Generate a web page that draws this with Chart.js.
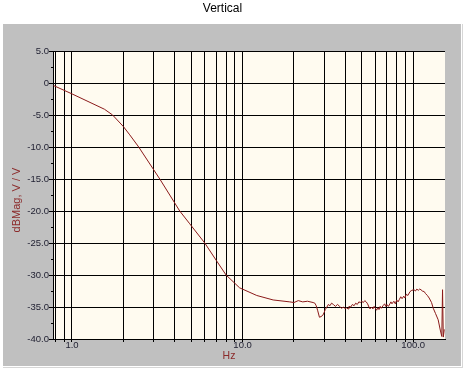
<!DOCTYPE html>
<html>
<head>
<meta charset="utf-8">
<style>
  html, body { margin: 0; padding: 0; background: #ffffff; }
  #wrap { width: 467px; height: 375px; }
</style>
<script src="https://cdn.jsdelivr.net/npm/chart.js@4/dist/chart.umd.min.js"></script>
</head>
<body>
<div id="wrap"><canvas id="c" width="467" height="375"></canvas></div>
<script>
// ---- data ----
const freqHz = [0.78, 1.0, 1.55, 1.73, 2.0, 2.18, 2.46, 3.27, 4.28, 4.9, 6.0, 7.0, 8.0, 9.6, 12.1, 15.1, 18.9, 20, 21.2, 22.5, 24, 25.9,
  26.5, 27.0, 27.5, 28.2, 28.8, 29.5, 30.0, 30.5, 31.2, 31.8, 32.5, 33.2, 34.0, 35, 36, 37, 38, 39, 40, 40.6, 41.5, 42, 43, 44, 45, 46, 47, 48, 49, 49.8,
  51, 52, 53, 54, 55, 55.8, 57, 58, 59, 60, 61, 62, 63, 64, 65, 66.5, 68, 69, 70, 71.5, 73, 74, 75, 77, 78.5, 80, 81.5, 83, 84.5, 86, 88, 89.5, 91, 93, 95.7,
  98, 101, 103, 105, 107, 109, 111, 113, 116, 118, 121, 124, 128, 131, 135, 140, 144, 147, 148.5, 150, 152];
const magDb = [-0.4, -1.7, -4.1, -5.0, -6.8, -8.1, -10.0, -15.0, -20.0, -22.0, -25.0, -27.7, -30.0, -32.0, -33.2, -33.9, -34.2, -34.3, -34.0, -34.2, -34.1, -34.3,
  -34.4, -34.8, -35.5, -36.6, -36.5, -36.3, -35.9, -35.4, -35.0, -34.6, -34.8, -34.4, -34.6, -34.9, -34.6, -34.9, -35.2, -35.0, -35.3, -35.1, -35.3, -34.9, -35.0, -34.6, -34.8, -34.4, -34.6, -34.2, -34.3, -34.1,
  -34.3, -34.0, -34.2, -34.5, -35.0, -35.3, -35.0, -35.3, -34.9, -35.2, -35.5, -35.1, -35.4, -34.9, -35.2, -34.8, -34.5, -34.9, -34.6, -34.9, -34.5, -34.2, -34.5, -34.1, -34.5, -33.9, -34.2, -33.8, -33.4, -33.7, -33.3, -33.6, -33.0, -33.2, -32.6,
  -32.4, -32.3, -32.5, -32.2, -32.4, -32.2, -32.3, -32.5, -32.6, -32.9, -33.2, -33.6, -34.3, -35.2, -36.0, -37.0, -38.6, -39.6, -32.3, -39.7, -38.5];
const xGridHz = [0.8, 0.9, 1, 2, 3, 4, 5, 6, 7, 8, 9, 10, 20, 30, 40, 50, 60, 70, 80, 90, 100];
const xLabelHz = [1, 10, 100];
const xMin = 0.774, xMax = 153.5;
const yMin = -40, yMax = 5, yStep = 5;
const yMinorTicks = [-37.5, -32.5, -27.5, -22.5, -17.5, -12.5, -7.5, -2.5, 2.5];
const chartTitle = 'Vertical';
const xTitle = 'Hz';
const yTitle = 'dBMag, V / V';

const FONT = 'Liberation Sans, Arial, sans-serif';
const AXIS_RED = '#8b2a2a';

const points = freqHz.map((f, i) => ({ x: f, y: magDb[i] }));

const bgPlugin = {
  id: 'bg',
  beforeDraw(chart) {
    const ctx = chart.ctx, a = chart.chartArea;
    ctx.save();
    ctx.fillStyle = '#ffffff';
    ctx.fillRect(0, 0, chart.width, chart.height);
    ctx.fillStyle = '#c0c0c0';
    ctx.fillRect(3, 24, 458, 342);
    ctx.fillStyle = '#d6d6d6';
    ctx.fillRect(462, 24, 1, 344);
    ctx.fillRect(3, 367, 460, 1);
    ctx.fillStyle = '#fffbf0';
    ctx.fillRect(a.left, a.top, a.right - a.left, a.bottom - a.top);
    ctx.restore();
  },
  afterLayout(chart) {
    // place axis titles where the reference has them
    const shift = (scale, dx, dy) => {
      const proto = Object.getPrototypeOf(scale);
      scale.drawTitle = function () {
        const L = this.left, R = this.right, T = this.top, B = this.bottom;
        this.left += dx; this.right += dx; this.top += dy; this.bottom += dy;
        proto.drawTitle.call(this);
        this.left = L; this.right = R; this.top = T; this.bottom = B;
      };
    };
    shift(chart.scales.x, -20, 0);
    shift(chart.scales.y, 0, 5);
  },
  afterDraw(chart) {
    const ctx = chart.ctx, a = chart.chartArea, ys = chart.scales.y;
    ctx.save();
    ctx.strokeStyle = '#000000';
    ctx.lineWidth = 1;
    ctx.beginPath();
    yMinorTicks.forEach(v => {
      const py = Math.round(ys.getPixelForValue(v)) + 0.5;
      ctx.moveTo(a.left - 2, py);
      ctx.lineTo(a.left, py);
    });
    ctx.stroke();
    ctx.restore();
  }
};

new Chart(document.getElementById('c'), {
  type: 'line',
  data: {
    datasets: [{
      data: points,
      borderColor: '#8b1a1a',
      borderWidth: 1,
      pointRadius: 0,
      tension: 0,
      fill: false
    }]
  },
  options: {
    responsive: false,
    animation: false,
    devicePixelRatio: 1,
    layout: { padding: { left: 0, right: 22, top: 0, bottom: 0 } },
    plugins: {
      legend: { display: false },
      tooltip: { enabled: false },
      title: {
        display: true,
        text: chartTitle,
        color: '#000000',
        font: { family: FONT, size: 12, weight: 'normal' },
        padding: { top: 1.5, bottom: 35.1 }
      }
    },
    scales: {
      x: {
        type: 'logarithmic',
        min: xMin,
        max: xMax,
        afterBuildTicks(scale) {
          scale.ticks = xGridHz.map(v => ({ value: v }));
        },
        afterFit(scale) { scale.height = 36; },
        ticks: {
          autoSkip: false,
          maxRotation: 0,
          padding: -2,
          color: '#1e1e30',
          font: { family: FONT, size: 9.5 },
          callback(value) {
            return xLabelHz.includes(value) ? value.toFixed(1) : '';
          }
        },
        grid: { color: '#000000', lineWidth: 1, tickLength: 3, tickColor: '#000000' },
        border: { display: true, color: '#000000', width: 1 },
        title: {
          display: true,
          text: xTitle,
          color: AXIS_RED,
          font: { family: FONT, size: 10.5 },
          padding: { top: 0, bottom: 12.7 }
        }
      },
      y: {
        type: 'linear',
        min: yMin,
        max: yMax,
        afterFit(scale) { scale.width = 53; },
        ticks: {
          stepSize: yStep,
          padding: 0,
          color: '#1e1e30',
          font: { family: FONT, size: 9.5 },
          callback(value) {
            return value === 0 ? '0' : value.toFixed(1);
          }
        },
        grid: { color: '#000000', lineWidth: 1, tickLength: 4, tickColor: '#000000' },
        border: { display: true, color: '#000000', width: 1 },
        title: {
          display: true,
          text: yTitle,
          color: AXIS_RED,
          font: { family: FONT, size: 11 },
          padding: { top: 10.4, bottom: 0 }
        }
      }
    }
  },
  plugins: [bgPlugin]
});
</script>
</body>
</html>
